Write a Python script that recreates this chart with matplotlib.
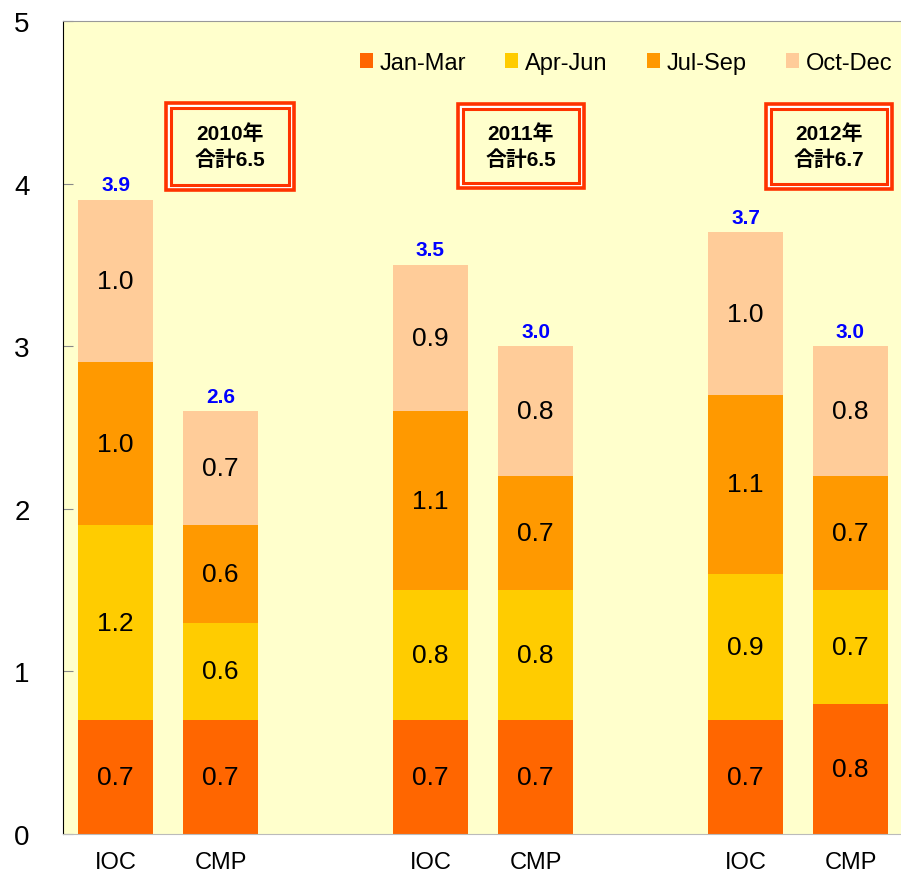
import matplotlib
matplotlib.use("Agg")
import matplotlib.pyplot as plt
from matplotlib.patches import Rectangle
import numpy as np

plt.rcParams['font.family'] = ['Liberation Sans', 'Noto Sans CJK JP']

# Data
x_labels = ["IOC", "CMP", "IOC", "CMP", "IOC", "CMP"]
series_names = ["Jan-Mar", "Apr-Jun", "Jul-Sep", "Oct-Dec"]
jan_mar = [0.7, 0.7, 0.7, 0.7, 0.7, 0.8]
apr_jun = [1.2, 0.6, 0.8, 0.8, 0.9, 0.7]
jul_sep = [1.0, 0.6, 1.1, 0.7, 1.1, 0.7]
oct_dec = [1.0, 0.7, 0.9, 0.8, 1.0, 0.8]
totals = [3.9, 2.6, 3.5, 3.0, 3.7, 3.0]
years = ["2010年", "2011年", "2012年"]
year_totals = [6.5, 6.5, 6.7]

colors = ["#FF6600", "#FFCC00", "#FF9900", "#FFCC99"]
bg = "#FFFFCC"

W, H = 901, 879
fig = plt.figure(figsize=(W / 100, H / 100), dpi=100)
ax = fig.add_axes([63 / W, 44 / H, 840 / W, 813 / H])
ax.set_facecolor(bg)

positions = np.array([0, 1, 3, 4, 6, 7], dtype=float)
stack = [jan_mar, apr_jun, jul_sep, oct_dec]
bottom = np.zeros(len(positions))
for vals, col, name in zip(stack, colors, series_names):
    vals = np.array(vals)
    ax.bar(positions, vals, width=0.714, bottom=bottom, color=col,
           label=name, zorder=2)
    for p, b, v in zip(positions, bottom, vals):
        ax.text(p, b + v / 2, f"{v:.1f}", ha="center", va="center",
                fontsize=19, color="black", zorder=3)
    bottom += vals

for p, t in zip(positions, totals):
    ax.text(p, t + 0.035, f"{t:.1f}", ha="center", va="bottom",
            fontsize=15, fontweight="bold", color="#0000FF", zorder=3)

ax.set_xlim(-0.5, 7.5)
ax.set_ylim(0, 5)
ax.set_yticks([0, 1, 2, 3, 4, 5])
ax.set_yticklabels(["0", "1", "2", "3", "4", "5"], fontsize=20)
ax.set_xticks(positions)
ax.set_xticklabels(x_labels, fontsize=17)
ax.tick_params(axis="y", direction="in", length=7, color="#888888", pad=24)
ax.tick_params(axis="x", length=0, pad=12)
ax.spines["left"].set_color("black")
ax.spines["top"].set_color("#999999")
ax.spines["bottom"].set_color("#BBBBBB")
ax.spines["right"].set_visible(False)

leg = ax.legend(loc="upper right", bbox_to_anchor=(1.0, 0.975), ncol=4,
                frameon=False, fontsize=17, handlelength=0.55,
                handleheight=0.55, handletextpad=0.3, columnspacing=1.65,
                borderaxespad=0.05)

# Yearly summary boxes with double red frame (figure pixel coordinates, top-down)
boxes = [(166, 104, 294, 191), (458, 105, 584, 189), (766, 105, 892, 190)]
red = "#FF3300"
for (x0, y0, x1, y1), yr, tot in zip(boxes, years, year_totals):
    outer = Rectangle((x0 / W, 1 - y1 / H), (x1 - x0) / W, (y1 - y0) / H,
                      transform=fig.transFigure, facecolor="white",
                      edgecolor=red, linewidth=2.6, zorder=5)
    fig.add_artist(outer)
    d = 5
    inner = Rectangle(((x0 + d) / W, 1 - (y1 - d) / H), (x1 - x0 - 2 * d) / W,
                      (y1 - y0 - 2 * d) / H, transform=fig.transFigure,
                      facecolor=bg, edgecolor=red, linewidth=2.2, zorder=6)
    fig.add_artist(inner)
    fig.text((x0 + x1) / 2 / W, 1 - (y0 + y1) / 2 / H,
             f"{yr}\n合計{tot:.1f}", ha="center", va="center",
             fontsize=15, fontweight="bold", linespacing=1.4, zorder=7)

fig.savefig("out.png", dpi=100, facecolor="white")
